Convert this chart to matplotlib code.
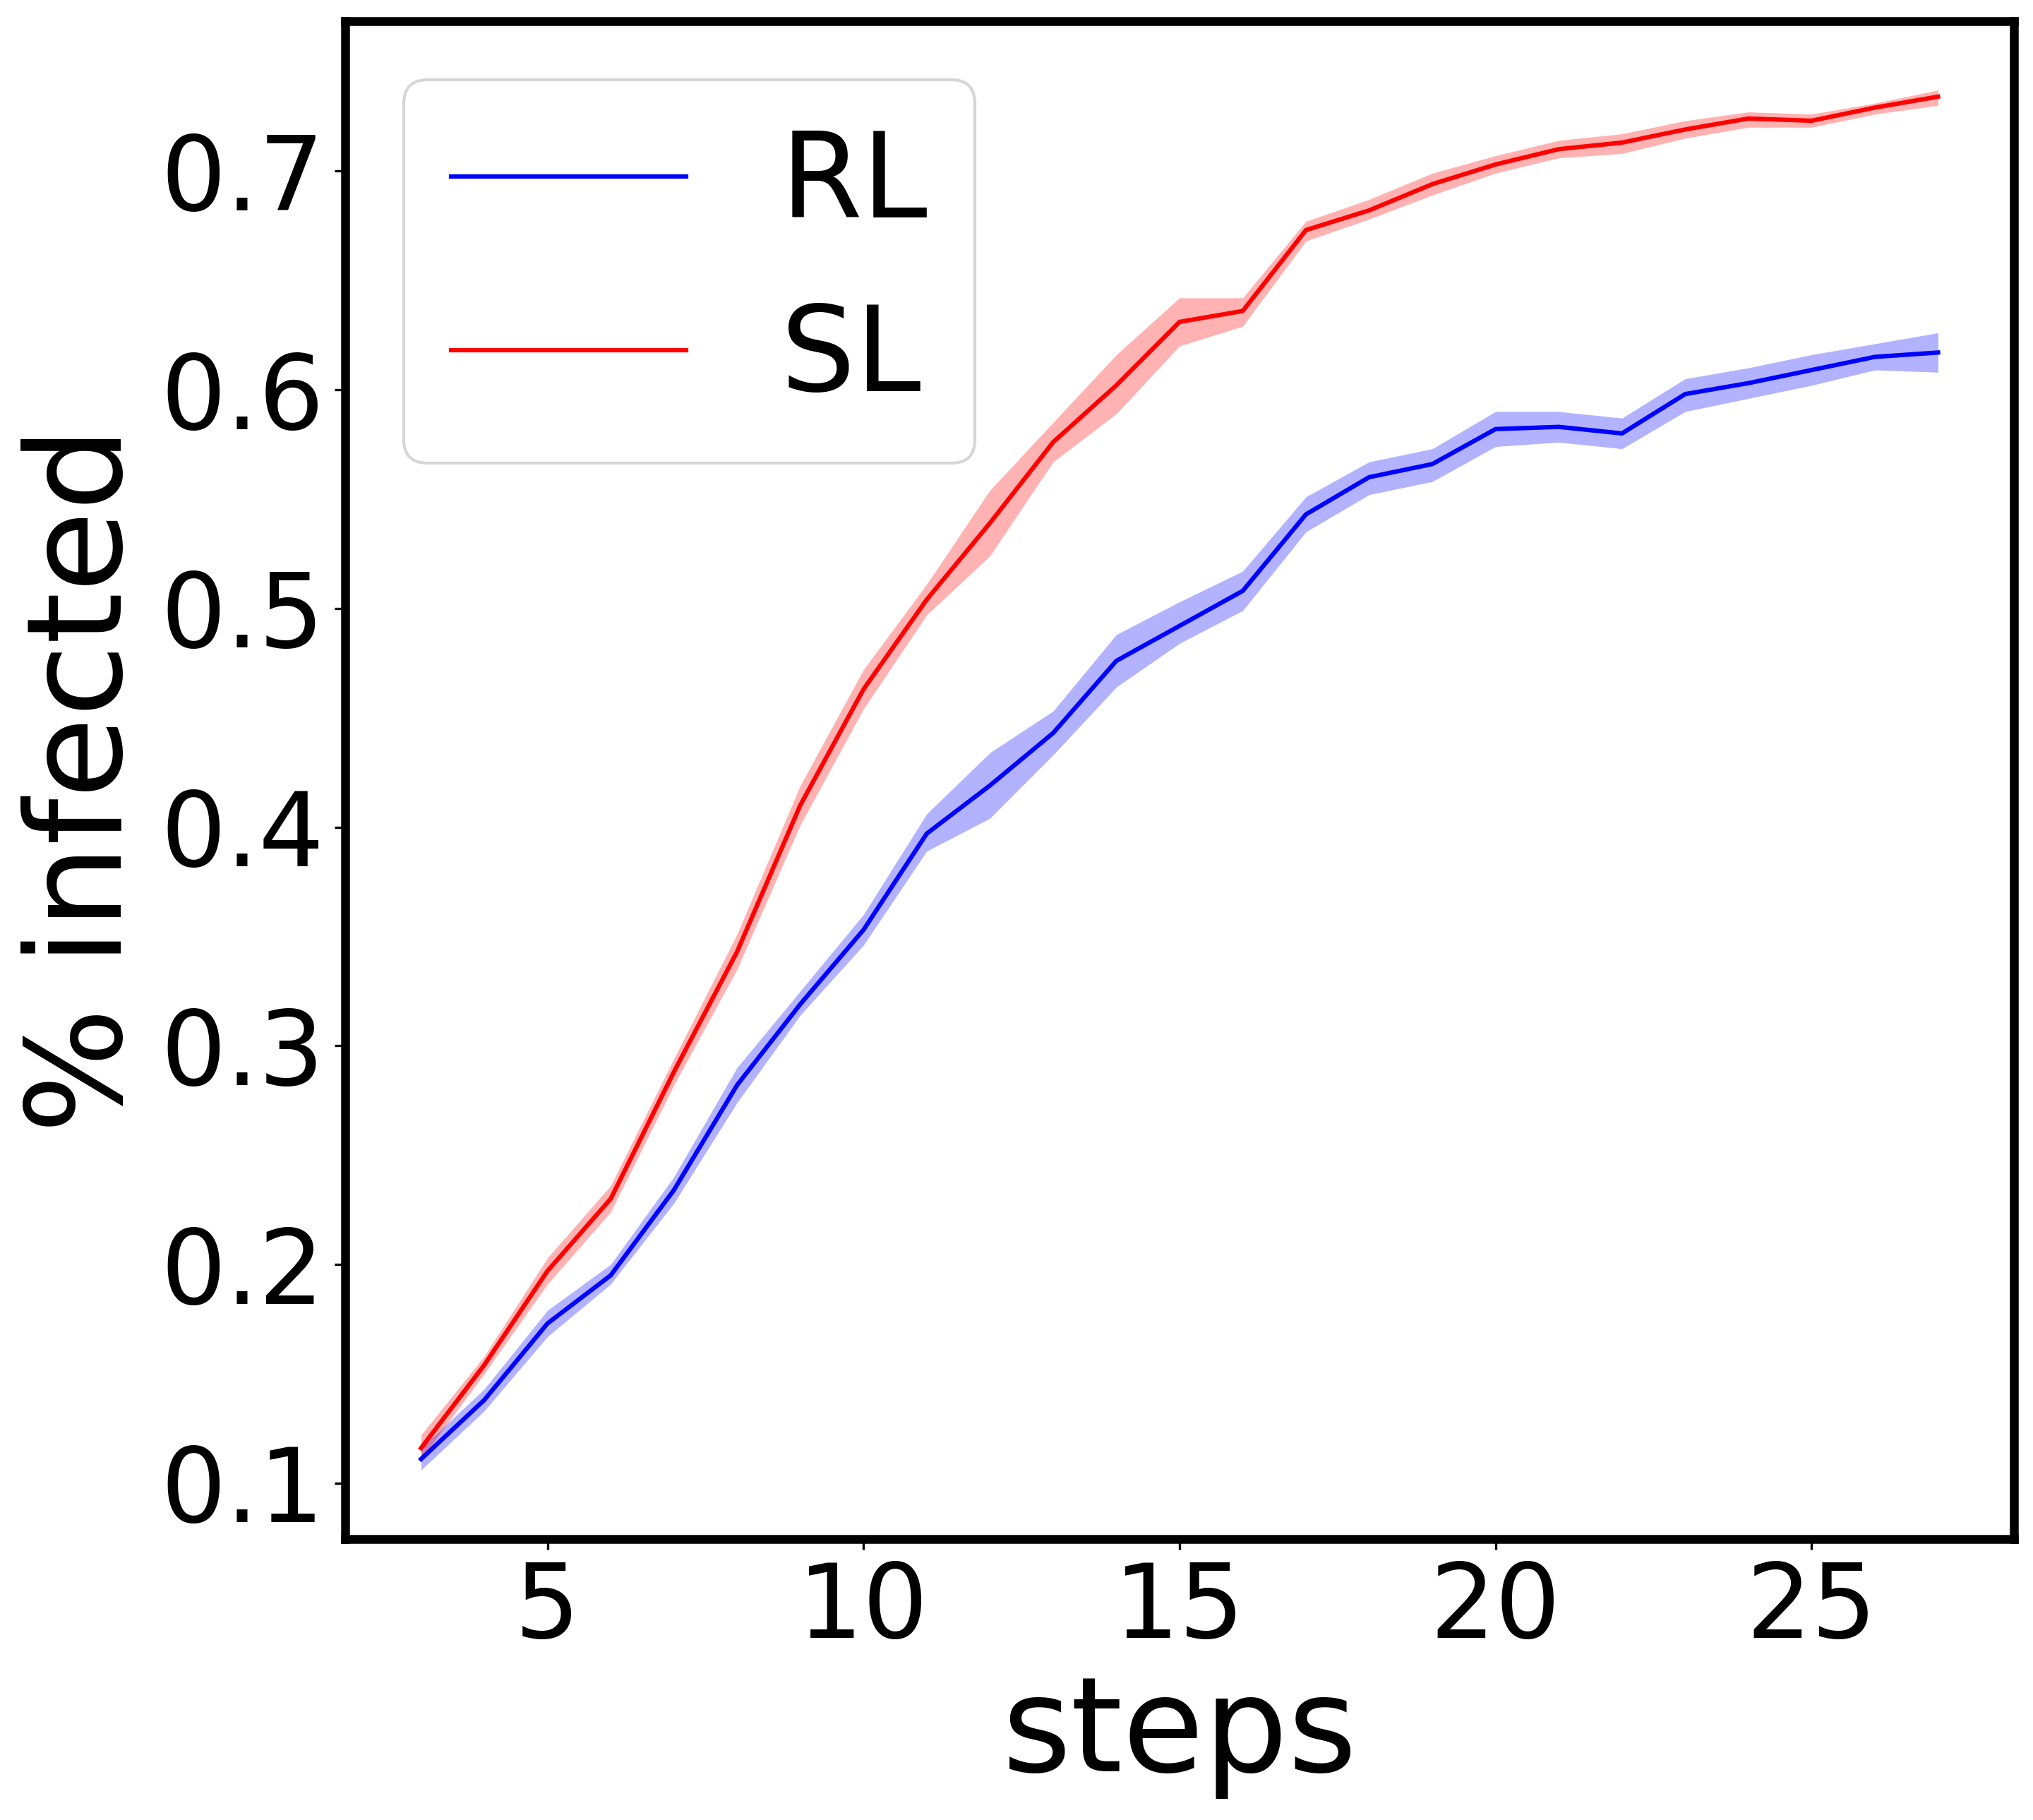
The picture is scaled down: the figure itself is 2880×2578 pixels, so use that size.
import numpy as np
import matplotlib
matplotlib.use("Agg")
import matplotlib.pyplot as plt

steps = np.arange(3, 28)

rl_mean = [0.111, 0.138, 0.173, 0.195, 0.234, 0.282, 0.319, 0.353, 0.397, 0.419,
           0.443, 0.476, 0.492, 0.508, 0.543, 0.560, 0.566, 0.582, 0.583, 0.580,
           0.598, 0.603, 0.609, 0.615, 0.617]
rl_low = [0.106, 0.133, 0.167, 0.191, 0.228, 0.274, 0.314, 0.346, 0.389, 0.404,
          0.433, 0.464, 0.484, 0.499, 0.535, 0.552, 0.558, 0.574, 0.576, 0.573,
          0.590, 0.596, 0.602, 0.609, 0.608]
rl_high = [0.116, 0.143, 0.179, 0.200, 0.240, 0.290, 0.325, 0.360, 0.406, 0.434,
           0.453, 0.488, 0.503, 0.517, 0.551, 0.567, 0.573, 0.590, 0.590, 0.587,
           0.605, 0.610, 0.616, 0.621, 0.626]

sl_mean = [0.116, 0.154, 0.197, 0.230, 0.288, 0.343, 0.410, 0.463, 0.504, 0.539,
           0.576, 0.602, 0.631, 0.636, 0.673, 0.682, 0.694, 0.703, 0.710, 0.713,
           0.719, 0.724, 0.723, 0.729, 0.734]
sl_low = [0.111, 0.150, 0.191, 0.224, 0.282, 0.335, 0.401, 0.454, 0.497, 0.524,
          0.567, 0.589, 0.620, 0.629, 0.668, 0.678, 0.689, 0.699, 0.706, 0.708,
          0.715, 0.720, 0.720, 0.726, 0.730]
sl_high = [0.122, 0.158, 0.203, 0.236, 0.294, 0.351, 0.419, 0.472, 0.511, 0.554,
           0.585, 0.616, 0.642, 0.642, 0.677, 0.687, 0.699, 0.707, 0.714, 0.717,
           0.723, 0.727, 0.726, 0.731, 0.737]

series_labels = ["RL", "SL"]
x_label = "steps"
y_label = "% infected"

fig = plt.figure(figsize=(9.6, 2578 / 300), dpi=300)
ax = fig.add_axes([0.1698, 0.1544, 0.9906 - 0.1698, 0.9884 - 0.1544])

ax.plot(steps, rl_mean, color="blue", lw=1.5, label=series_labels[0])
ax.fill_between(steps, rl_low, rl_high, color="blue", alpha=0.3, lw=0)
ax.plot(steps, sl_mean, color="red", lw=1.5, label=series_labels[1])
ax.fill_between(steps, sl_low, sl_high, color="red", alpha=0.3, lw=0)

ax.set_xticks([5, 10, 15, 20, 25])
ax.set_yticks([0.1, 0.2, 0.3, 0.4, 0.5, 0.6, 0.7])
ax.tick_params(labelsize=35)
ax.set_xlabel(x_label, fontsize=45)
ax.set_ylabel(y_label, fontsize=45)
for s in ax.spines.values():
    s.set_linewidth(3)
ax.legend(loc="upper left", fontsize=40)

fig.savefig("out.png", dpi=300)
